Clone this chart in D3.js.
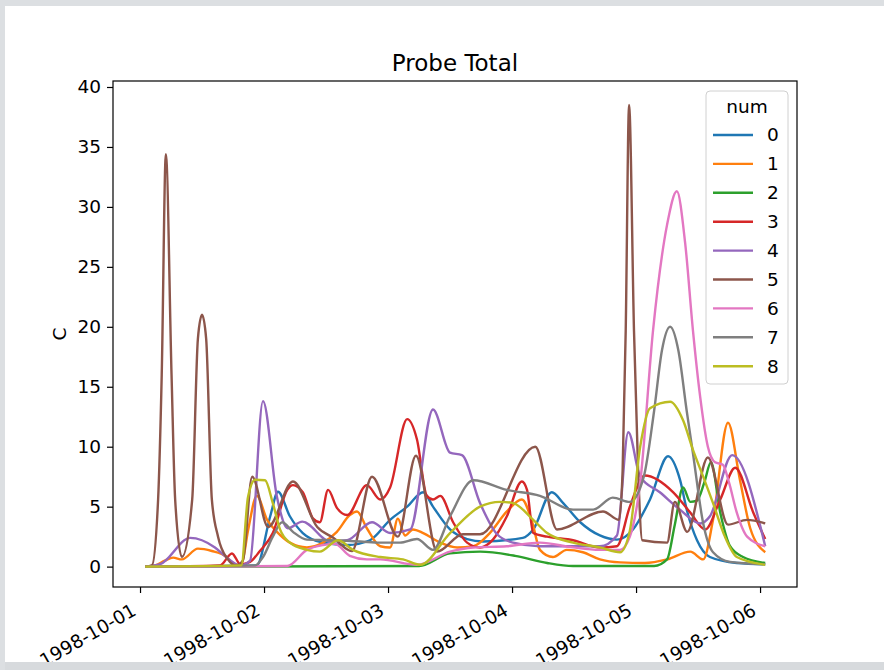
<!DOCTYPE html>
<html>
<head>
<meta charset="utf-8">
<script src="https://cdn.jsdelivr.net/npm/d3@7"></script>
<style>
  body { margin: 0; background: #dcdfe2; }
  text { font-family: "DejaVu Sans", sans-serif; }
</style>
</head>
<body>
<svg width="884" height="670"></svg>
<script>

// series names (legend "num")
const names = ["0", "1", "2", "3", "4", "5", "6", "7", "8"];

// each series: [hours since 1998-10-01 00:00, C]
const s0 = [[1,0],[22.6,0.1],[25.2,4.2],[26.7,6.25],[29,4.2],[31.5,2.8],[35.4,2.0],[40.1,1.8],[44.5,2.2],[48.4,3.9],[51.7,5.0],[54.8,6.2],[56.7,5.0],[60,3.1],[63.3,2.3],[66.4,2.1],[74.1,2.4],[76.1,3.1],[79.7,6.2],[81.9,5.3],[85.2,3.7],[89,2.6],[92.3,2.25],[95.4,3.1],[98.7,5.6],[102.2,9.2],[104.5,7.25],[105.9,4.6],[107.8,2.2],[110.3,0.8],[115.5,0.3],[121,0.2]];
const s1 = [[1,0],[2.9,0.1],[4.8,0.5],[6.4,0.75],[8.1,0.6],[11.2,1.5],[13.9,1.3],[16.8,0.8],[18.4,0.15],[19.7,0.3],[20.9,3.0],[22.6,5.9],[24.6,3.9],[26.5,2.9],[29,2.0],[32.3,1.6],[35.4,2.0],[38.1,2.9],[40.6,4.3],[42,4.6],[43.9,3.2],[46.5,1.7],[48.4,1.6],[49.9,4.0],[51.3,2.6],[52.8,3.1],[54.8,2.8],[58.1,2.0],[61.4,1.6],[64.5,1.7],[67.7,2.8],[71,4.6],[73.9,5.6],[75.9,3.7],[77.4,1.4],[79.9,0.8],[82.6,1.4],[85.7,1.2],[89,0.6],[92.9,0.35],[97.7,0.3],[102,0.6],[106.5,1.25],[109,0.6],[110.9,3.9],[113.8,12.0],[116.1,7.25],[118.1,3.2],[121,1.2]];
const s2 = [[1,0],[54,0.05],[60,1.1],[65.8,1.25],[72.6,0.9],[78.8,0.3],[83.8,0.05],[99.5,0.05],[102,0.6],[103.5,3.5],[105.1,6.6],[106.5,5.4],[107.8,5.5],[109.2,7],[110.5,8.7],[112.3,4.5],[114.2,1.7],[116.7,0.8],[121,0.3]];
const s3 = [[1,0],[15.5,0.1],[17.8,1.1],[19.4,0.2],[21.3,0.4],[23.2,1.3],[25.7,2.8],[28.5,6.4],[29.6,6.8],[31.5,6.2],[33.5,4.0],[34.8,3.7],[36.4,6.4],[38.1,4.9],[40.1,4.3],[43.9,6.8],[46.5,5.6],[48.4,6.6],[51.7,12.3],[53.6,10.6],[55.5,5.9],[56.7,5.6],[58.1,5.9],[60.6,3.7],[63.3,2.0],[65.8,1.6],[68.3,2.25],[71,4.2],[73.9,7.1],[74.9,6.4],[76.1,2.8],[78.8,2.5],[83.8,2.2],[89,1.6],[92.3,1.7],[94.8,5],[97.7,7.6],[103.2,6.2],[106.5,4.5],[109.4,3.1],[112.3,5.6],[115.2,8.25],[118.7,4.5],[121,2.3]];
const s4 = [[1,0],[3.9,0.2],[9.7,2.4],[14.5,1.6],[16.8,0.75],[19.4,0.1],[21.3,0.5],[23.8,13.8],[26.5,5.8],[28.6,3.2],[31.4,3.75],[36.8,2.1],[40.1,2.2],[44.9,3.7],[48.4,2.8],[52.3,3.1],[56.7,13.1],[60,9.5],[62.3,9.3],[65.8,5.3],[69.1,2.7],[72.2,2.0],[77.4,1.7],[83.2,1.7],[89,1.7],[92.3,2.6],[94.5,11.2],[96.8,7.5],[100.6,6.2],[104.5,4.75],[108.4,3.6],[110.3,4.2],[114.6,9.3],[121,1.7]];
const s5 = [[1,0],[2.3,0.1],[3.5,5.6],[4.2,16],[5.0,34.4],[6.1,16],[6.8,5.6],[8.1,0.8],[10.1,5.6],[11.2,19],[12,21],[12.8,19],[13.9,5.6],[15.1,2.5],[17,0.6],[18.6,0.1],[19.9,0.5],[21.7,7.5],[24.8,3.3],[29.6,7.1],[34.3,3.3],[37.4,2.4],[41,1.3],[44.9,7.5],[49.9,2.5],[53.4,9.25],[57.5,1.25],[62.5,2.7],[65.8,2.7],[76.5,10],[80.7,3.1],[89.6,4.6],[92.7,3.9],[93.4,8],[94,19.7],[94.65,38.5],[95.6,19.7],[96.4,8],[97.2,2.2],[102,2.0],[103.5,5.4],[105.9,2.9],[109.9,9.1],[113.8,3.5],[117.5,3.9],[121,3.6]];
const s6 = [[1,0],[28.5,0.05],[32.3,1.4],[35.4,1.8],[37.7,1.9],[40.6,0.9],[43.9,0.6],[46.5,0.6],[53.6,0.15],[60,1.25],[64.5,1.6],[71,1.7],[77.4,2.0],[83.8,1.6],[89,1.4],[92.9,1.4],[94.8,2.5],[96.8,7],[99.3,19.75],[102,28.5],[103.9,31.3],[105.5,27],[107,19.75],[108.4,14.2],[109.9,10],[111.3,8.7],[112.8,8.5],[114,7],[115.5,4.5],[117.5,2.5],[121,1.7]];
const s7 = [[1,0],[22.3,0.1],[23.8,0.8],[25.7,2.5],[27.5,3.7],[29.6,2.9],[32.3,2.25],[36.8,2.2],[42.6,2.1],[46.5,2.0],[50.3,2.0],[53.6,2.3],[56.7,1.4],[60,4.2],[64.5,7.2],[71,6.4],[77.4,5.9],[83.8,4.75],[87.7,4.75],[91.5,5.75],[94.8,5.4],[97.5,7.5],[99.5,13],[101,18],[102.6,20],[104.2,18],[105.8,13],[107,9.5],[109,3.6],[110.9,1.2],[114.2,0.4],[121,0.2]];
const s8 = [[1,0],[19.6,0.1],[20.9,5.8],[22.3,7.25],[24.2,7.2],[25.7,5.3],[27.1,3.1],[29,2.0],[32.3,1.4],[34.8,1.25],[38.3,2.2],[41.2,1.4],[46.5,0.8],[50.9,0.6],[54.2,0.15],[60,2.8],[65.8,5.0],[69.7,5.4],[72.2,5.3],[76.1,3.9],[78.8,2.8],[83.8,2.0],[89,1.6],[92.9,1.2],[94.8,3],[96.8,10],[98.7,13.2],[102.6,13.75],[105.1,12.2],[107,9.75],[109,7.5],[110.9,5.3],[113.2,2.5],[115.5,0.8],[121,0.15]];

const allSeries = [s0, s1, s2, s3, s4, s5, s6, s7, s8];
const yTicks = [0, 5, 10, 15, 20, 25, 30, 35, 40];

// matplotlib tab10
const colors = ["#1f77b4", "#ff7f0e", "#2ca02c", "#d62728", "#9467bd", "#8c564b", "#e377c2", "#7f7f7f", "#bcbd22"];

const t0 = Date.UTC(1998, 9, 1);
const toDate = h => new Date(t0 + h * 3600e3);

const svg = d3.select("svg");
const fig = { left: 113, right: 797, top: 81, bottom: 587 };
const fs = 18.5; // tick / legend font size

// screenshot panel
svg.append("rect").attr("width", 884).attr("height", 670).attr("fill", "#dcdfe2");
svg.append("rect").attr("x", 5).attr("y", 6).attr("width", 879).attr("height", 656).attr("fill", "#fff");

const x = d3.scaleUtc()
    .domain([toDate(-5.23), toDate(127.15)])
    .range([fig.left, fig.right]);

const y = d3.scaleLinear()
    .domain([-1.7, 40.5])
    .range([fig.bottom, fig.top]);

const line = d3.line()
    .x(d => x(toDate(d[0])))
    .y(d => y(d[1]))
    .curve(d3.curveMonotoneX);

svg.append("g")
    .selectAll("path")
    .data(allSeries)
    .enter()
    .append("path")
    .attr("d", line)
    .attr("fill", "none")
    .attr("stroke", (d, i) => colors[i])
    .attr("stroke-width", 2.4)
    .attr("stroke-linejoin", "round");

// frame
svg.append("rect")
    .attr("x", fig.left).attr("y", fig.top)
    .attr("width", fig.right - fig.left).attr("height", fig.bottom - fig.top)
    .attr("fill", "none").attr("stroke", "#000").attr("stroke-width", 1.2);

// x axis, dates rotated like autofmt_xdate
const xAxis = svg.append("g")
    .attr("transform", "translate(0," + fig.bottom + ")")
    .call(d3.axisBottom(x)
        .ticks(d3.utcDay.every(1))
        .tickFormat(d3.utcFormat("%Y-%m-%d"))
        .tickSize(6));
xAxis.select(".domain").remove();
xAxis.selectAll("line").attr("stroke", "#000").attr("stroke-width", 1.2);
xAxis.selectAll("text")
    .attr("font-size", fs)
    .attr("fill", "#000")
    .attr("text-anchor", "end")
    .attr("dy", null)
    .attr("y", 0)
    .attr("transform", "translate(-3,27) rotate(-30)");

const yAxis = svg.append("g")
    .attr("transform", "translate(" + fig.left + ",0)")
    .call(d3.axisLeft(y).tickValues(yTicks).tickSize(6).tickPadding(6));
yAxis.select(".domain").remove();
yAxis.selectAll("line").attr("stroke", "#000").attr("stroke-width", 1.2);
yAxis.selectAll("text").attr("font-size", fs).attr("fill", "#000");

svg.append("text")
    .attr("x", (fig.left + fig.right) / 2)
    .attr("y", 71)
    .attr("text-anchor", "middle")
    .attr("font-size", 23)
    .text("Probe Total");

svg.append("text")
    .attr("transform", "translate(66," + ((fig.top + fig.bottom) / 2) + ") rotate(-90)")
    .attr("text-anchor", "middle")
    .attr("font-size", fs)
    .text("C");

// legend
const legend = svg.append("g");
legend.append("rect")
    .attr("x", 706).attr("y", 91).attr("width", 82).attr("height", 293)
    .attr("rx", 4)
    .attr("fill", "#fff").attr("fill-opacity", 0.8)
    .attr("stroke", "#d0d0d0");
legend.append("text")
    .attr("x", 747).attr("y", 113)
    .attr("text-anchor", "middle")
    .attr("font-size", fs)
    .text("num");

const item = legend.selectAll(".item")
    .data(names)
    .enter()
    .append("g")
    .attr("class", "item")
    .attr("transform", (d, i) => "translate(0," + (135 + i * 28.9) + ")");
item.append("line")
    .attr("x1", 713).attr("x2", 753)
    .attr("stroke", (d, i) => colors[i])
    .attr("stroke-width", 2.4);
item.append("text")
    .attr("x", 767)
    .attr("dy", "0.35em")
    .attr("font-size", fs)
    .text(d => d);

// bottom edge of screenshot
svg.append("rect").attr("x", 0).attr("y", 662).attr("width", 884).attr("height", 8).attr("fill", "#d7dadd");
svg.append("rect").attr("x", 0).attr("y", 0).attr("width", 5).attr("height", 670).attr("fill", "#dcdfe2");
</script>
</body>
</html>
